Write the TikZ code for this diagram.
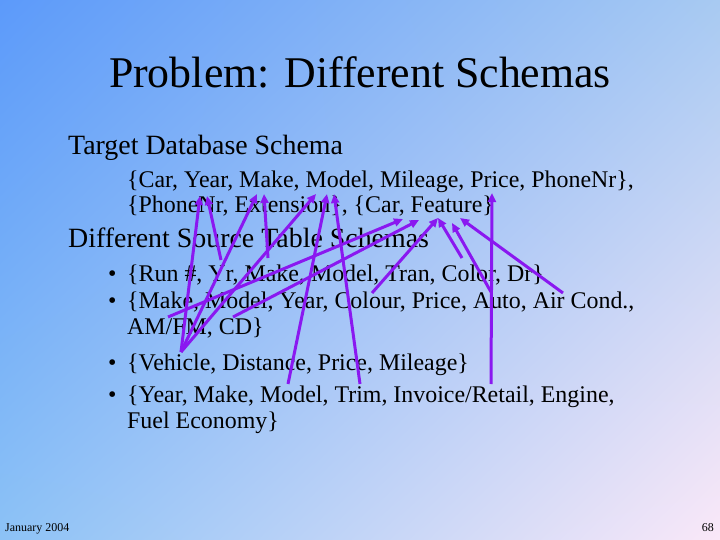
\documentclass[tikz,border=0pt]{standalone}
\usepackage{fontspec}
\setmainfont{Liberation Serif}
\usetikzlibrary{arrows.meta,shadings}
\definecolor{bgUL}{RGB}{92,154,250}
\definecolor{bgUR}{RGB}{168,202,242}
\definecolor{bgLL}{RGB}{140,194,246}
\definecolor{bgLR}{RGB}{250,232,248}
\definecolor{arrowviolet}{RGB}{138,24,240}
\tikzset{
  lvlone/.style={anchor=base west, inner sep=0pt, font=\fontsize{28}{33}\selectfont},
  lvltwo/.style={anchor=base west, inner sep=0pt, font=\fontsize{24}{28}\selectfont},
  bulletmark/.style={anchor=base west, inner sep=0pt, font=\fontsize{24}{28}\selectfont},
  footer/.style={inner sep=0pt, font=\fontsize{12}{14}\selectfont},
  maplink/.style={draw=arrowviolet, line width=3bp, -{Triangle[length=9bp,width=8bp]}},
}
\begin{document}
\begin{tikzpicture}[x=1bp,y=-1bp]
\useasboundingbox (0,0) rectangle (720,540);
\shade[upper left=bgUL, upper right=bgUR, lower left=bgLL, lower right=bgLR] (0,0) rectangle (720,540);

% title
\node[anchor=base, inner sep=0pt, font=\fontsize{44}{50}\selectfont] (title) at (360,88) {Problem: Different Schemas};

% target schema
\node[lvlone] (tgthead) at (68,155) {Target Database Schema};
\node[lvltwo] (tgtone) at (127,188) {\{Car, Year, Make, Model, Mileage, Price, PhoneNr\},};
\node[lvltwo] (tgttwo) at (127,213) {\{PhoneNr, Extension\}, \{Car, Feature\}};

% source schemas
\node[lvlone] (srchead) at (68,248) {Different Source Table Schemas};
\node[bulletmark] (ba) at (108,282) {\textbullet};
\node[lvltwo] (srcone) at (127,282) {\{Run \#, Yr, Make, Model, Tran, Color, Dr\}};
\node[bulletmark] (bb) at (108,308) {\textbullet};
\node[lvltwo] (srctwo) at (127,308) {\{Make, Model, Year, Colour, Price, Auto, Air Cond.,};
\node[lvltwo] (srctwob) at (127,334) {AM/FM, CD\}};
\node[bulletmark] (bc) at (108,370) {\textbullet};
\node[lvltwo] (srcthree) at (127,370) {\{Vehicle, Distance, Price, Mileage\}};
\node[bulletmark] (bd) at (108,402) {\textbullet};
\node[lvltwo] (srcfour) at (127,402) {\{Year, Make, Model, Trim, Invoice/Retail, Engine,};
\node[lvltwo] (srcfourb) at (127,428) {Fuel Economy\}};

% footer
\node[footer, anchor=base west] (date) at (5,531) {January 2004};
\node[footer, anchor=base east] (pagenum) at (714,531) {68};

% target attribute points
\coordinate (yearA) at (200,196);
\coordinate (yearB) at (207,196);
\coordinate (makeA) at (257,194);
\coordinate (makeB) at (264,194);
\coordinate (modelA) at (316,194);
\coordinate (modelB) at (327,194);
\coordinate (modelC) at (334,194);
\coordinate (price) at (492,193);
\coordinate (carA) at (403,219);
\coordinate (carB) at (419,220);
\coordinate (featA) at (438,218);
\coordinate (featB) at (452,223);
\coordinate (featC) at (460,218);

% source attribute points
\coordinate (yr) at (221,260);
\coordinate (veh) at (181,352);
\coordinate (makeone) at (268,258);
\coordinate (modelfour) at (288,384);
\coordinate (trim) at (360,384);
\coordinate (invoice) at (491,384);
\coordinate (maketwo) at (168,317);
\coordinate (modeltwo) at (233,317);
\coordinate (colour) at (372,293);
\coordinate (color) at (462,258);
\coordinate (auto) at (491,292);
\coordinate (aircond) at (563,293);

% mapping arrows
\draw[maplink] (yr) -- (yearB);
\draw[maplink] (veh) -- (yearA);
\draw[maplink] (veh) -- (makeA);
\draw[maplink] (veh) -- (modelA);
\draw[maplink] (makeone) -- (makeB);
\draw[maplink] (modelfour) -- (modelB);
\draw[maplink] (trim) -- (modelC);
\draw[maplink] (invoice) -- (price);
\draw[maplink] (maketwo) -- (carA);
\draw[maplink] (modeltwo) -- (carB);
\draw[maplink] (colour) -- (featA);
\draw[maplink] (color) -- (featA);
\draw[maplink] (auto) -- (featB);
\draw[maplink] (aircond) -- (featC);
\end{tikzpicture}
\end{document}
